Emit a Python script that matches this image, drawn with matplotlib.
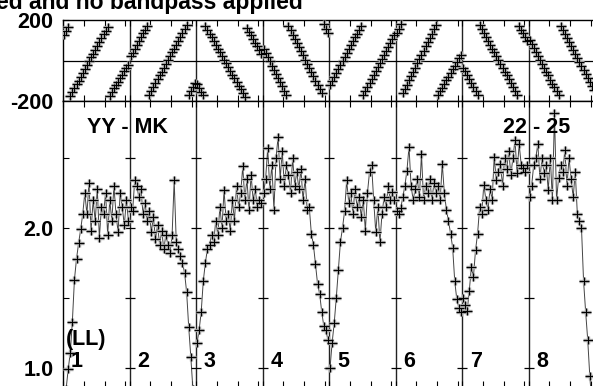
import numpy as np
import matplotlib
matplotlib.use('Agg')
import matplotlib.pyplot as plt
from matplotlib.path import Path
from matplotlib.transforms import blended_transform_factory

plt.rcParams['font.family'] = ['Liberation Sans', 'DejaVu Sans']
plt.rcParams['font.weight'] = 'bold'

# channels per IF, IF labels
n_chan = 32
channels = np.arange(n_chan) + 0.5
if_labels = ['1', '2', '3', '4', '5', '6', '7', '8']

# amplitude per IF
amp_if1 = [0.70, 0.85, 0.99, 1.11, 1.33, 1.63, 1.78, 1.89, 1.99, 2.10, 2.25, 2.10, 2.32, 1.98, 2.20, 2.05,
           2.28, 1.93, 2.15, 2.10, 2.25, 1.95, 2.20, 2.05, 2.30, 2.10, 1.97, 2.25, 2.15, 2.02, 2.20, 2.05]
amp_if2 = [2.15, 2.12, 2.34, 2.30, 2.22, 2.28, 2.10, 2.18, 2.05, 2.12, 1.97, 2.08, 1.92, 2.02, 1.88, 1.98,
           1.85, 1.95, 1.88, 1.82, 1.95, 2.34, 1.90, 1.85, 1.80, 1.75, 1.68, 1.54, 1.29, 1.08, 0.85, 0.70]
amp_if3 = [1.18, 1.27, 1.40, 1.62, 1.75, 1.85, 1.88, 1.95, 1.90, 2.05, 1.95, 2.15, 2.00, 2.27, 2.05, 2.10,
           1.98, 2.20, 2.05, 2.30, 2.15, 2.25, 2.44, 2.20, 2.35, 2.13, 2.38, 2.20, 2.28, 2.15, 2.20, 2.18]
amp_if4 = [2.25, 2.35, 2.57, 2.28, 2.45, 2.13, 2.50, 2.65, 2.35, 2.55, 2.30, 2.45, 2.38, 2.25, 2.50, 2.30,
           2.40, 2.28, 2.42, 2.20, 2.35, 2.13, 2.15, 1.96, 1.88, 1.74, 1.60, 1.53, 1.40, 1.30, 1.27, 1.20]
amp_if5 = [1.00, 1.18, 1.32, 1.50, 1.70, 1.90, 2.00, 2.12, 2.34, 2.18, 2.25, 2.10, 2.28, 2.15, 2.22, 2.08,
           2.20, 1.98, 2.25, 2.40, 2.45, 2.20, 1.97, 2.15, 1.90, 2.10, 2.22, 2.15, 2.30, 2.20, 2.26, 2.20]
amp_if6 = [2.12, 2.10, 2.14, 2.22, 2.30, 2.41, 2.58, 2.30, 2.20, 2.28, 2.35, 2.22, 2.53, 2.20, 2.30, 2.25,
           2.35, 2.20, 2.32, 2.25, 2.30, 2.20, 2.46, 2.25, 2.13, 2.05, 1.96, 1.86, 1.62, 1.49, 1.43, 1.40]
amp_if7 = [1.50, 1.45, 1.41, 1.55, 1.72, 1.65, 1.84, 1.96, 2.15, 2.10, 2.31, 2.20, 2.13, 2.28, 2.20, 2.51,
           2.34, 2.40, 2.46, 2.30, 2.50, 2.42, 2.55, 2.38, 2.50, 2.63, 2.39, 2.60, 2.45, 2.43, 2.40, 2.45]
amp_if8 = [2.22, 2.30, 2.45, 2.50, 2.60, 2.35, 2.50, 2.39, 2.45, 2.27, 2.50, 2.20, 2.82, 2.20, 2.36, 2.45,
           2.40, 2.56, 2.30, 2.50, 2.35, 2.22, 2.40, 2.10, 2.05, 2.00, 1.62, 1.40, 1.20, 0.94, 0.75, 0.60]

# phase per IF in degrees
phase_if1 = [128, 147, 166, -175, -156, -137, -118, -99, -80, -61, -42, -23, -4, 15, 34, 53,
             72, 91, 110, 129, 148, 167, -174, -156, -138, -121, -104, -87, -70, -54, -38, -22]
phase_if2 = [20, 39, 58, 77, 96, 115, 134, 153, 172, -169, -150, -131, -112, -93, -74, -55,
             -36, -17, 2, 21, 40, 59, 78, 97, 116, 135, 154, 173, -168, -149, -130, -111]
phase_if3 = [-117, -135, -154, -172, 170, 151, 133, 114, 96, 78, 59, 41, 22, 4, -14, -33,
             -51, -70, -88, -106, -125, -143, -162, -180, 162, 143, 125, 107, 88, 70, 51, 33]
phase_if4 = [58, 37, 17, -4, -25, -45, -66, -87, -108, -128, -149, -170, 170, 149, 128, 108,
             87, 66, 46, 25, 4, -16, -37, -58, -78, -99, -120, -141, -161, 178, 157, 137]
phase_if5 = [-120, -100, -81, -61, -42, -22, -3, 17, 36, 56, 75, 94, 114, 133, 153, 172,
             -168, -149, -129, -110, -90, -71, -51, -32, -12, 7, 27, 46, 66, 85, 104, 124]
phase_if6 = [136, 157, 178, -161, -140, -119, -98, -77, -56, -35, -14, 7, 28, 49, 70, 91,
             112, 133, 154, 175, -170, -152, -134, -116, -98, -80, -62, -44, -26, -8, 10, 28]
phase_if7 = [-35, -54, -73, -92, -111, -130, -149, -168, 173, 154, 135, 116, 97, 78, 59, 40,
             21, 2, -17, -36, -55, -74, -93, -112, -131, -150, -169, 172, 153, 134, 115, 96]
phase_if8 = [101, 82, 62, 43, 23, 4, -16, -35, -55, -74, -94, -114, -133, -153, -172, 168,
             149, 129, 110, 90, 71, 51, 32, 12, -7, -27, -46, -66, -85, -105, -124, -144]

amps = [amp_if1, amp_if2, amp_if3, amp_if4, amp_if5, amp_if6, amp_if7, amp_if8]
phases = [phase_if1, phase_if2, phase_if3, phase_if4, phase_if5, phase_if6, phase_if7, phase_if8]

amp_ticks = [1.0, 1.5, 2.0, 2.5]
amp_ticklabels = ['1.0', '', '2.0', '']
phase_ticks = [-200, 200]
chan_ticks = [0, 10, 20, 30]

W, H = 593, 386
fig = plt.figure(figsize=(W / 100, H / 100), dpi=100)
x0, x1 = 63, 595
ax_ph = fig.add_axes([x0 / W, 1 - 101 / H, (x1 - x0) / W, 81 / H])
ax_amp = fig.add_axes([x0 / W, 1 - 387 / H, (x1 - x0) / W, 286 / H])

cross = Path([(-1, 0), (1, 0), (0, -0.75), (0, 0.75)],
             [Path.MOVETO, Path.LINETO, Path.MOVETO, Path.LINETO])
fs = 15.5
n_if = len(amps)

for k in range(n_if):
    x = k * n_chan + channels
    ax_amp.plot(x, amps[k], color='#444444', lw=0.7, zorder=2)
    for ax, y in ((ax_amp, amps[k]), (ax_ph, phases[k])):
        ax.plot(x, y, ls='none', marker=cross, ms=7.4, mew=2.4, color='#a8a8a8', zorder=3)
        ax.plot(x, y, ls='none', marker=cross, ms=7.2, mew=0.8, color='black', zorder=4)

xt = [k * n_chan + t for k in range(n_if) for t in chan_ticks]
for ax in (ax_ph, ax_amp):
    ax.set_xlim(0, n_if * n_chan)
    ax.set_xticks(xt)
    ax.set_xticklabels([])
    ax.tick_params(axis='x', direction='in', top=True, bottom=True, length=4.5, width=0.8)
    ax.tick_params(axis='y', direction='in', left=True, right=False, length=4.5, width=0.8,
                   labelsize=fs, pad=7)
    for s in ax.spines.values():
        s.set_linewidth(1.0)
    for k in range(1, n_if):
        ax.axvline(k * n_chan, color='#222222', lw=1.0, zorder=1)

ax_ph.set_ylim(-200, 200)
ax_ph.set_yticks(phase_ticks)
ax_ph.set_yticklabels(['-200', '200'])
ax_ph.axhline(0, color='black', lw=0.9, zorder=1)

ax_amp.set_ylim(0.864, 2.907)
ax_amp.set_yticks(amp_ticks)
ax_amp.set_yticklabels(amp_ticklabels)
for k in range(1, n_if):
    ax_amp.plot([k * n_chan] * len(amp_ticks), amp_ticks, ls='none', marker='_', ms=7.2,
                mew=0.9, color='black', zorder=2)

for lab in ax_ph.get_yticklabels() + ax_amp.get_yticklabels():
    lab.set_fontweight('bold')

ax_amp.text((87 - x0) / (x1 - x0), (387 - 133) / 286, 'YY - MK', transform=ax_amp.transAxes,
            fontsize=fs, fontweight='bold', va='baseline', zorder=6)
ax_amp.text((503 - x0) / (x1 - x0), (387 - 133) / 286, '22 - 25', transform=ax_amp.transAxes,
            fontsize=fs, fontweight='bold', va='baseline', zorder=6)
ax_amp.text((66 - x0) / (x1 - x0), (387 - 345) / 286, '(LL)', transform=ax_amp.transAxes,
            fontsize=fs, fontweight='bold', va='baseline', zorder=6)
tr = blended_transform_factory(ax_amp.transData, ax_amp.transAxes)
for k, lab in enumerate(if_labels):
    ax_amp.text(k * n_chan + 3.8, (387 - 367) / 286, lab, transform=tr,
                fontsize=fs, fontweight='bold', va='baseline', zorder=6)

fig.text(-4 / W, 1 - 9 / H, 'ed and no bandpass applied', fontsize=16.5,
         fontweight='bold', va='baseline', ha='left')

fig.savefig('out.png', dpi=100)
